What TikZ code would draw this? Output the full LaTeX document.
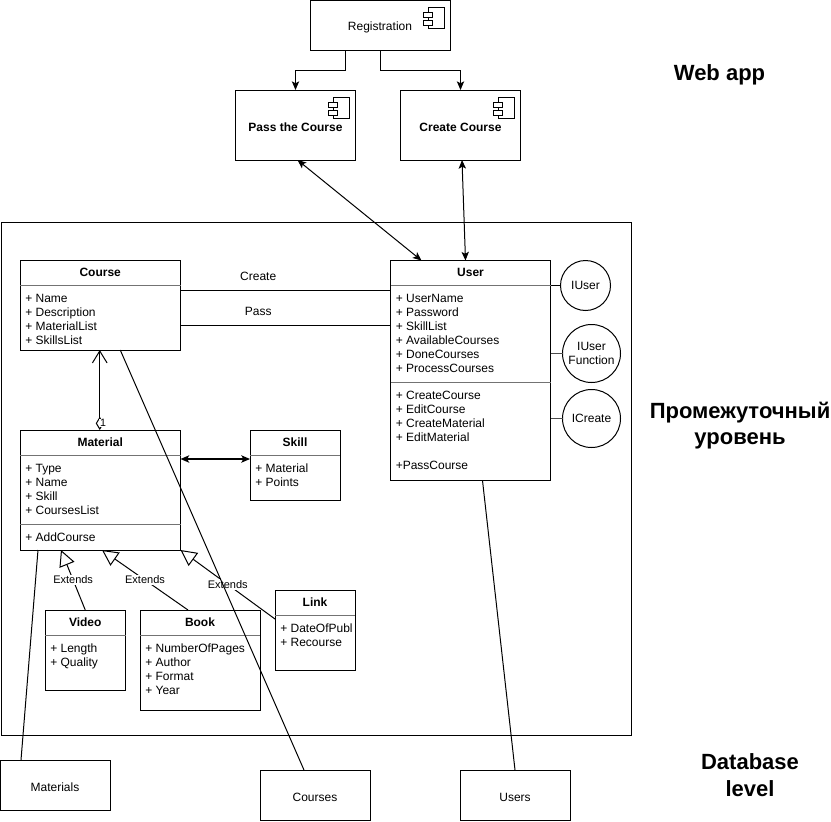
\documentclass[tikz,border=0pt]{standalone}
\usepackage{fontspec}
\setmainfont{Liberation Sans}
\usetikzlibrary{arrows.meta,positioning}

\tikzset{
  boxsize/.style 2 args={minimum width=#1*0.75pt,minimum height=#2*0.75pt},
  basebox/.style={draw,rectangle,inner sep=0pt,outer sep=0pt,line width=.75pt,font=\fontsize{9}{10.5}\selectfont},
  cornerbox/.style={basebox,anchor=north west},
  namedbox/.style={cornerbox,text height=9pt,text depth=0pt},
  titletext/.style={inner sep=0pt,font=\fontsize{9}{10.5}\selectfont\bfseries,text height=6.5pt,text depth=0pt},
  attrtext/.style={inner sep=0pt,anchor=north west,align=left,font=\fontsize{9}{10.5}\selectfont},
  linktext/.style={inner sep=0pt,font=\fontsize{9}{10.5}\selectfont},
  extendstext/.style={inner sep=1pt,fill=white,font=\fontsize{8.25}{10}\selectfont},
  sidetext/.style={inner sep=0pt,align=center,font=\fontsize{16.5}{20}\selectfont\bfseries},
  iface/.style={draw,circle,inner sep=0pt,outer sep=0pt,line width=.75pt,align=center,font=\fontsize{9}{10.5}\selectfont},
  wire/.style={line width=.75pt},
  heavywire/.style={line width=1.1pt,black!70},
  sepline/.style={line width=.6pt,black!55},
  extendsline/.style={wire,-{Triangle[open,fill=white,length=12pt,width=12pt]}},
  barbline/.style={wire,{Straight Barb[length=9pt,width=11pt]}-{Diamond[open,fill=white,length=10pt,width=6pt]}},
}
\newcommand{\compicon}[1]{%
  \begin{scope}[shift={([shift={(-27,7)}]#1.north east)},line width=.75pt]
    \draw (5,0) rectangle (21,21);
    \draw[fill=white] (0,5) rectangle (9,10);
    \draw[fill=white] (0,13) rectangle (9,18);
  \end{scope}}
\newcommand{\sepat}[2]{\draw[sepline] ([shift={(0,#2)}]#1.north west) -- ([shift={(0,#2)}]#1.north east);}

\begin{document}
\begin{tikzpicture}[x=0.75pt,y=-0.75pt,>={Stealth[length=6.5pt,width=5.5pt,inset=1.5pt]}]
\useasboundingbox (0,0) rectangle (831,821);

\node[cornerbox,boxsize={630}{513}] (frame) at (1,222) {};

% web app
\node[namedbox,boxsize={140}{50}] (reg) at (310,0) {Registration};
\node[namedbox,boxsize={120}{70},font=\fontsize{9}{10.5}\selectfont\bfseries] (pass) at (235.5,90) {Pass the Course};
\node[namedbox,boxsize={120}{70},font=\fontsize{9}{10.5}\selectfont\bfseries] (create) at (400.5,90) {Create Course};
\compicon{reg}
\compicon{pass}
\compicon{create}

% classes
\node[cornerbox,boxsize={160.5}{90}] (course) at (20,260) {};
\node[basebox,boxsize={160.5}{120},below=60pt of course] (material) {};
\node[cornerbox,boxsize={90}{70}] (skill) at (250,430) {};
\node[cornerbox,boxsize={160}{220}] (user) at (390.5,260.5) {};
\node[cornerbox,boxsize={80.5}{80}] (video) at (45,610) {};
\node[cornerbox,boxsize={120}{100}] (book) at (140,610) {};
\node[cornerbox,boxsize={80}{80}] (linkbox) at (275,590) {};

\node[titletext] (coursetitle) at ([shift={(0,12)}]course.north) {Course};
\node[titletext] (materialtitle) at ([shift={(0,12)}]material.north) {Material};
\node[titletext] (skilltitle) at ([shift={(0,12)}]skill.north) {Skill};
\node[titletext] (usertitle) at ([shift={(0,12)}]user.north) {User};
\node[titletext] (videotitle) at ([shift={(0,12)}]video.north) {Video};
\node[titletext] (booktitle) at ([shift={(0,12)}]book.north) {Book};
\node[titletext] (linktitle) at ([shift={(0,12)}]linkbox.north) {Link};

\sepat{course}{25}
\sepat{material}{25}
\sepat{material}{94}
\sepat{skill}{25}
\sepat{user}{24.5}
\sepat{user}{121.5}
\sepat{video}{25}
\sepat{book}{25}
\sepat{linkbox}{25}

\node[attrtext] (courseattr) at ([shift={(5,33.5)}]course.north west) {+ Name\\+ Description\\+ MaterialList\\+ SkillsList};
\node[attrtext] (materialattr) at ([shift={(5,33.5)}]material.north west) {+ Type\\+ Name\\+ Skill\\+ CoursesList};
\node[attrtext] (materialop) at ([shift={(5,102.5)}]material.north west) {+ AddCourse};
\node[attrtext] (skillattr) at ([shift={(5,33.5)}]skill.north west) {+ Material\\+ Points};
\node[attrtext] (userattr) at ([shift={(5,33)}]user.north west) {+ UserName\\+ Password\\+ SkillList\\+ AvailableCourses\\+ DoneCourses\\+ ProcessCourses};
\node[attrtext] (userop) at ([shift={(5,130)}]user.north west) {+ CreateCourse\\+ EditCourse\\+ CreateMaterial\\+ EditMaterial\\[10.5pt]+PassCourse};
\node[attrtext] (videoattr) at ([shift={(5,33.5)}]video.north west) {+ Length\\+ Quality};
\node[attrtext] (bookattr) at ([shift={(5,33.5)}]book.north west) {+ NumberOfPages\\+ Author\\+ Format\\+ Year};
\node[attrtext] (linkattr) at ([shift={(5,33.5)}]linkbox.north west) {+ DateOfPubl\\+ Recourse};

% interfaces
\node[iface,minimum size=37.5pt] (iuser) at (585.5,285.5) {IUser};
\node[iface,minimum size=43.5pt] (ifunc) at (591.5,353.5) {IUser\\Function};
\node[iface,minimum size=43.5pt] (icreate) at (591.5,418.5) {ICreate};

% database
\node[namedbox,boxsize={110}{50}] (materials) at (0,760) {Materials};
\node[namedbox,boxsize={110}{50}] (courses) at (260,770) {Courses};
\node[namedbox,boxsize={110}{50}] (users) at (460,770) {Users};

% side captions
\node[sidetext] (webcap) at (719.5,75) {Web app};
\node[sidetext] (midcap) at (740,425.5) {Промежуточный\\уровень};
\node[sidetext] (dbcap) at (750,775) {Database\\level};

% connectors
\draw[wire,->] ([shift={(-35,0)}]reg.south) -- ++(0,20) -| (pass.north);
\draw[wire,->] (reg.south) -- ++(0,20) -| (create.north);
\draw[wire,<->] ([shift={(2,0)}]pass.south) -- ([shift={(31,0)}]user.north west);
\draw[wire,<->] ([shift={(1.5,0)}]create.south) -- ([shift={(75,0)}]user.north west);

\draw[wire] ([shift={(0,30)}]course.north east) -- node[linktext,pos=.37,above=7pt] (createlabel) {Create} ([shift={(0,29.5)}]user.north west);
\draw[wire] ([shift={(0,65)}]course.north east) -- node[linktext,pos=.37,above=7pt] (passlabel) {Pass} ([shift={(0,64.5)}]user.north west);

\draw[barbline] ([shift={(-.5,0)}]course.south) -- ([shift={(-.5,0)}]material.north);
\node[inner sep=.5pt,fill=white,font=\fontsize{8}{10}\selectfont] (onelabel) at (103,423) {1};
\draw[wire,black,line width=1pt,<->] ([shift={(0,29)}]material.north east) -- ([shift={(0,29)}]skill.north west);

\draw[extendsline] (video.north) -- node[extendstext] (extvideo) {Extends} ([shift={(41,0)}]material.south west);
\draw[extendsline] ([shift={(-12,0)}]book.north) -- node[extendstext] (extbook) {Extends} ([shift={(82,0)}]material.south west);
\draw[extendsline] ([shift={(0,29)}]linkbox.north west) -- node[extendstext] (extlink) {Extends} (material.south east);

\draw[wire] (iuser.west) -- (iuser.west -| user.east);
\draw[heavywire] (ifunc.west) -- (ifunc.west -| user.east);
\draw[heavywire] (icreate.west) -- (icreate.west -| user.east);

\draw[wire] ([shift={(18,0)}]material.south west) -- ([shift={(21,0)}]materials.north west);
\draw[wire] ([shift={(20,0)}]course.south) -- ([shift={(44,0)}]courses.north west);
\draw[wire] ([shift={(92,0)}]user.south west) -- ([shift={(55,0)}]users.north west);
\end{tikzpicture}
\end{document}
